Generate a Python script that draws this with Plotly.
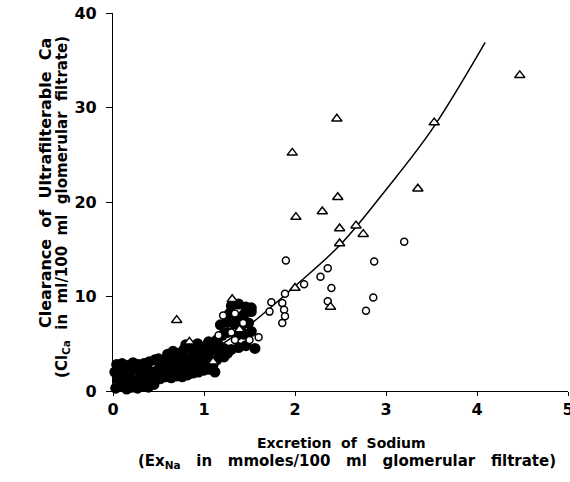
import plotly.graph_objects as go

# Filled circles (ExNa, ClCa)
filled_x = [0.03,0.09,0.15,0.21,0.27,0.33,0.39,0.45,
            0.05,0.11,0.17,0.23,0.29,0.35,0.41,0.47,
            0.02,0.08,0.14,0.20,0.26,0.32,0.38,0.44,0.50,
            0.04,0.10,0.16,0.22,0.28,0.34,0.40,0.46,
            0.52,0.58,0.64,0.70,0.76,0.82,0.88,0.94,1.00,
            0.55,0.61,0.67,0.73,0.79,0.85,0.91,0.97,1.03,
            0.50,0.56,0.62,0.68,0.74,0.80,0.86,0.92,0.98,1.04,
            0.60,0.66,0.72,0.78,0.84,0.90,0.96,1.02,1.08,
            0.80,0.93,1.05,1.14,
            1.06,1.10,1.14,1.18,1.08,1.12,1.16,
            1.22,1.30,1.38,1.46,1.56,
            1.20,1.26,1.36,1.44,1.52,
            1.18,1.25,1.33,1.41,1.49,
            1.28,1.36,1.44,1.52,
            1.30,1.38,1.46,1.52,
            1.22,1.26,1.15]
filled_y = [0.3,0.5,0.2,0.4,0.3,0.5,0.4,0.7,
            1.2,1.0,1.4,1.1,1.3,1.0,1.2,1.5,
            2.0,2.2,1.9,2.1,2.3,1.9,2.2,2.0,2.3,
            2.8,2.9,2.7,3.0,2.8,2.9,3.1,3.3,
            1.3,1.5,1.4,1.6,1.5,1.7,1.9,2.0,2.2,
            2.4,2.5,2.3,2.6,2.4,2.6,2.8,2.7,2.9,
            3.4,3.2,3.5,3.3,3.6,3.4,3.5,3.7,3.5,3.8,
            3.9,4.2,4.0,4.4,4.5,4.3,4.6,4.4,4.8,
            4.9,5.0,5.2,5.4,
            2.3,2.8,3.3,3.9,4.3,2.0,4.7,
            4.5,4.4,4.6,4.8,4.5,
            5.9,6.2,5.9,6.0,6.3,
            7.0,7.3,7.1,6.9,7.2,
            8.2,7.8,8.1,8.4,
            9.0,9.2,8.9,8.8,
            3.6,4.0,5.0]

# Open circles
open_x = [1.21,1.34,1.43,1.16,1.30,1.34,1.50,1.60,
          1.74,1.72,
          1.90,2.87,3.20,2.36,2.28,2.10,2.40,2.36,2.86,2.78,1.89,1.86,1.88,1.89,1.86]
open_y = [8.0,8.2,7.2,5.9,6.2,5.4,5.4,5.7,
          9.4,8.4,
          13.8,13.7,15.8,13.0,12.1,11.3,10.9,9.5,9.9,8.5,10.3,9.3,8.6,7.9,7.2]

# Triangles
tri_x = [4.47,2.46,1.97,3.53,2.47,3.35,2.30,2.01,2.49,2.67,2.75,2.49,2.00,2.39,0.70,0.84,1.31,1.39,1.10]
tri_y = [33.4,28.8,25.2,28.4,20.5,21.4,19.0,18.4,17.2,17.5,16.6,15.6,10.9,8.9,7.5,5.2,9.7,6.5,3.1]

# Fitted curve
curve_x = [0.0,0.5,1.0,1.5,2.0,2.5,3.0,3.5,4.09]
curve_y = [0.0,1.5,3.8,7.0,11.1,15.5,21.3,27.6,36.9]

x_ticks = [0,1,2,3,4,5]
y_ticks = [0,10,20,30,40]

FONT = "DejaVu Sans"

fig = go.Figure()
fig.add_trace(go.Scatter(x=curve_x, y=curve_y, mode="lines", line=dict(color="black", width=1.5, shape="spline"),
                         hoverinfo="skip", cliponaxis=False))
fig.add_trace(go.Scatter(x=filled_x, y=filled_y, mode="markers", cliponaxis=False,
                         marker=dict(symbol="circle", size=11, color="black", line=dict(width=0))))
fig.add_trace(go.Scatter(x=open_x, y=open_y, mode="markers", cliponaxis=False,
                         marker=dict(symbol="circle", size=7, color="white", line=dict(color="black", width=1.5))))
fig.add_trace(go.Scatter(x=tri_x, y=tri_y, mode="markers", cliponaxis=False,
                         marker=dict(symbol="triangle-up", size=9, color="white", line=dict(color="black", width=1.5))))

fig.update_layout(
    width=570, height=482,
    margin=dict(l=113, r=2, t=13, b=91, autoexpand=False),
    paper_bgcolor="white", plot_bgcolor="white",
    showlegend=False,
    font=dict(family=FONT, color="black"),
    xaxis=dict(range=[0, 5], tickvals=x_ticks, ticktext=[str(v) for v in x_ticks],
               showgrid=False, zeroline=False, showline=True, linecolor="black", linewidth=1.2,
               ticks="outside", ticklen=4, tickcolor="black", ticklabeloverflow="allow", automargin=False,
               tickfont=dict(family=FONT, size=16, color="black", weight="bold")),
    yaxis=dict(range=[0, 40], tickvals=y_ticks, ticktext=[str(v) for v in y_ticks],
               showgrid=False, zeroline=False, showline=True, linecolor="black", linewidth=1.2,
               ticks="outside", ticklen=6, tickcolor="black", ticklabelstandoff=6, automargin=False,
               tickfont=dict(family=FONT, size=16, color="black", weight="bold")),
)

fig.add_annotation(xref="paper", yref="paper", x=0.503, y=0, xanchor="center", yanchor="middle", yshift=-52,
                   showarrow=False, text="<b>Excretion&nbsp;&nbsp;of&nbsp;&nbsp;Sodium</b>",
                   font=dict(family=FONT, size=14, color="black"))
fig.add_annotation(xref="paper", yref="paper", x=0.514, y=0, xanchor="center", yanchor="middle", yshift=-70,
                   showarrow=False,
                   text="<b>(Ex<sub>Na</sub>&nbsp;&nbsp;&nbsp;in&nbsp;&nbsp;&nbsp;mmoles/100&nbsp;&nbsp;&nbsp;ml&nbsp;&nbsp;&nbsp;glomerular&nbsp;&nbsp;&nbsp;filtrate)</b>",
                   font=dict(family=FONT, size=15, color="black"))
fig.add_annotation(xref="paper", yref="paper", x=0, y=0.55, xanchor="center", yanchor="middle", xshift=-68,
                   showarrow=False, textangle=-90,
                   text="<b>Clearance&nbsp;&nbsp;of&nbsp;&nbsp;Ultrafilterable&nbsp;&nbsp;Ca</b>",
                   font=dict(family=FONT, size=16, color="black"))
fig.add_annotation(xref="paper", yref="paper", x=0, y=0.487, xanchor="center", yanchor="middle", xshift=-50,
                   showarrow=False, textangle=-90,
                   text="<b>(Cl<sub>Ca</sub>&nbsp;&nbsp;in&nbsp;&nbsp;ml/100&nbsp;&nbsp;ml&nbsp;&nbsp;glomerular&nbsp;&nbsp;filtrate)</b>",
                   font=dict(family=FONT, size=15, color="black"))

fig.write_html("out.html")
